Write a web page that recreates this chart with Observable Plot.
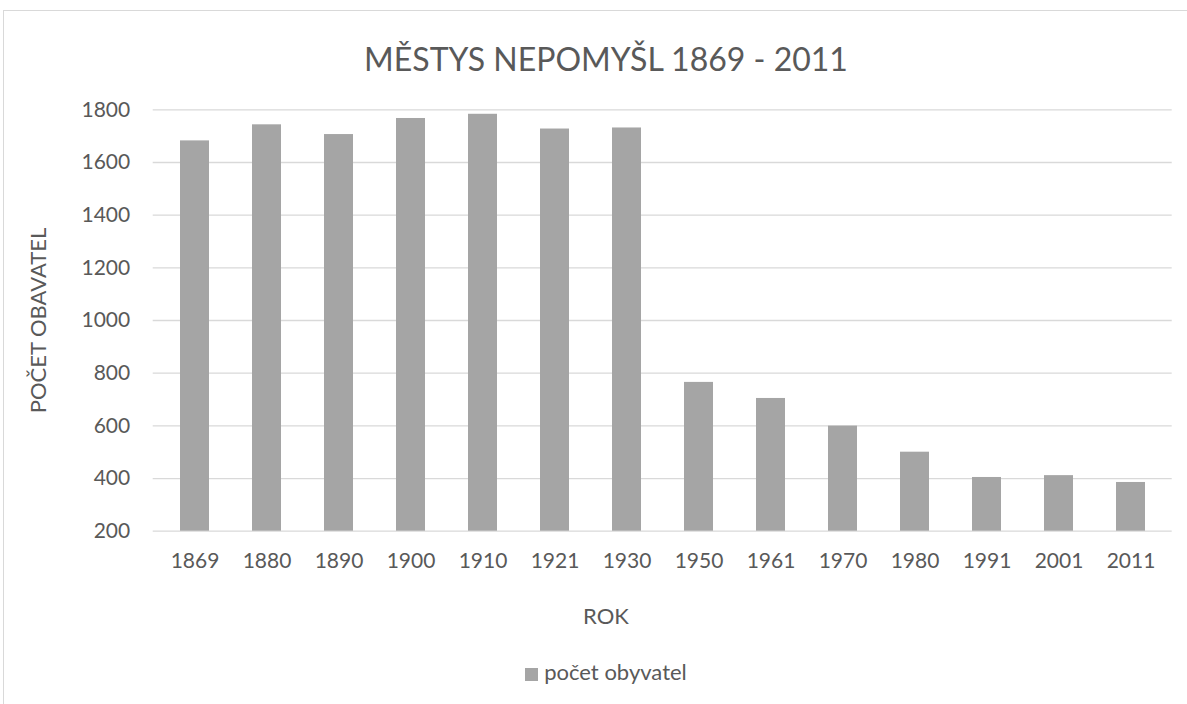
<!DOCTYPE html>
<html>
<head>
<meta charset="utf-8">
<script src="https://cdn.jsdelivr.net/npm/d3@7"></script>
<script src="https://cdn.jsdelivr.net/npm/@observablehq/plot@0.6"></script>
<style>
  html, body { margin: 0; padding: 0; background: #fff; width: 1187px; height: 704px; overflow: hidden; }
  body { position: relative; font-family: Lato, "Open Sans", sans-serif; color: #595959; }
  #frame { position: absolute; left: 3px; top: 10px; width: 1206px; height: 720px; border: 1px solid #d9d9d9; box-sizing: border-box; }
  #title { position: absolute; left: 3px; width: 1206px; top: 41px; text-align: center; font-size: 32px; line-height: 36px; white-space: nowrap; }
  #plot { position: absolute; left: 3px; top: 90px; width: 1206px; }
  #plot svg { max-width: none; }
  #xtitle { position: absolute; left: 3px; width: 1206px; top: 604px; text-align: center; font-size: 22px; line-height: 24px; }
  #legend { position: absolute; left: 3px; width: 1206px; top: 660px; text-align: center; font-size: 22px; line-height: 24px; }
  #legend .sw { display: inline-block; width: 13px; height: 13px; background: #a5a5a5; margin-right: 6px; vertical-align: -1px; }
</style>
</head>
<body>
<div id="frame"></div>
<div id="title">MĚSTYS NEPOMYŠL 1869 - 2011</div>
<div id="plot"></div>
<div id="xtitle">ROK</div>
<div id="legend"><span class="sw"></span>počet obyvatel</div>
<script>
const years = ["1869", "1880", "1890", "1900", "1910", "1921", "1930", "1950", "1961", "1970", "1980", "1991", "2001", "2011"];
const population = [1682, 1743, 1706, 1767, 1783, 1727, 1731, 765, 704, 599, 500, 404, 411, 385];
const yTicks = [200, 400, 600, 800, 1000, 1200, 1400, 1600, 1800];
const yTitle = "POČET OBAVATEL";
const seriesName = "počet obyvatel";

const data = years.map((year, i) => ({year, value: population[i]}));

const chart = Plot.plot({
  width: 1206,
  height: 550,
  marginTop: 19.3,
  marginLeft: 149.7,
  marginRight: 37.3,
  marginBottom: 109.3,
  style: {fontFamily: "Lato, 'Open Sans', sans-serif", fontSize: "21px", color: "#595959", background: "transparent", overflow: "visible", maxWidth: "none"},
  x: {domain: years, paddingInner: 0.6, paddingOuter: 0.3, label: null},
  y: {domain: [200, 1800], clamp: true, label: null},
  marks: [
    Plot.gridY(yTicks, {stroke: "#d9d9d9", strokeOpacity: 1, strokeWidth: 1.3}),
    Plot.barY(data, {x: "year", y: "value", fill: "#a5a5a5", title: d => `${seriesName} ${d.year}: ${d.value}`}),
    Plot.axisX({tickSize: 0, tickPadding: 22, label: null, fontSize: 21}),
    Plot.axisY(yTicks, {tickSize: 0, tickPadding: 23, label: null, fontSize: 21, tickFormat: d => String(d)}),
    Plot.text([yTitle], {frameAnchor: "left", textAnchor: "middle", lineAnchor: "middle", rotate: -90, dx: -114, fontSize: 22, fill: "#595959"})
  ]
});
document.getElementById("plot").appendChild(chart);
</script>
</body>
</html>
